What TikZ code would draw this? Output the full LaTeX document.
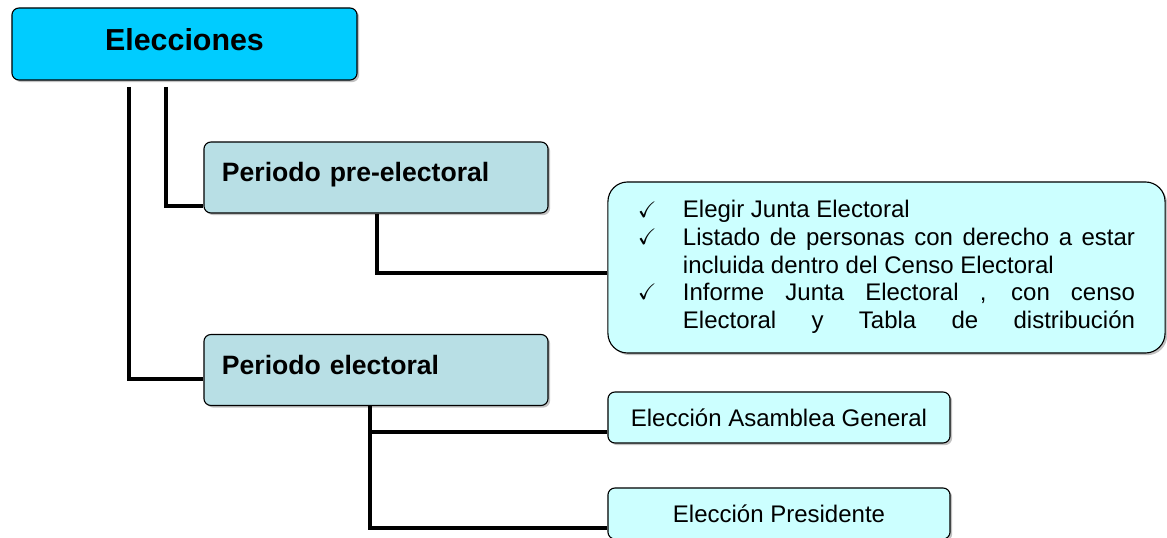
\documentclass[tikz,border=0pt]{standalone}
\usepackage{fontspec}
\setmainfont{Liberation Sans}
\usepackage{amssymb}
\usetikzlibrary{calc,shadows}
\definecolor{titlecyan}{RGB}{0,204,255}
\definecolor{phaseblue}{RGB}{184,223,229}
\definecolor{taskcyan}{RGB}{204,255,255}
\newcommand{\chk}{\raisebox{0.5pt}{\fontsize{16pt}{16pt}\selectfont$\checkmark$}}

\begin{document}
\begin{tikzpicture}[
  x=0.025cm, y=-0.025cm,
  box/.style={draw, line width=0.8pt, rounded corners=5pt,
              drop shadow={shadow xshift=1.5pt, shadow yshift=-1.5pt,
                           fill=black!60, opacity=0.4}},
  title/.style={box, fill=titlecyan, minimum width=8.625cm, minimum height=1.8cm,
                font=\fontsize{21.6pt}{24pt}\selectfont\bfseries},
  phase/.style={box, fill=phaseblue, minimum height=1.775cm, text width=7.7cm,
                inner xsep=0.45cm, align=left,
                font=\fontsize{18.9pt}{21pt}\selectfont\bfseries},
  tasks/.style={box, fill=taskcyan, rounded corners=14pt, minimum width=13.925cm,
                minimum height=4.275cm, inner xsep=0.75cm,
                font=\fontsize{17.07pt}{19.6pt}\selectfont},
  task/.style={box, fill=taskcyan, minimum width=8.55cm, minimum height=1.275cm,
               font=\fontsize{17.07pt}{20pt}\selectfont},
  conn/.style={line width=2.8pt}
]
\useasboundingbox (0,0) rectangle (1167,538);

\node[title] (elec) at (184.5,44) {\raisebox{0.225cm}{Elecciones}};
\node[phase] (pre) at (376,177.5) {\raisebox{0.26cm}{Periodo pre-electoral}};
\node[phase] (elect) at (376,370) {\raisebox{0.27cm}{Periodo electoral}};
\node[tasks] (tareas) at (886.5,267.5) {%
  \begin{tabular}{@{}p{1.125cm}@{}p{11.3cm}@{}}
  \chk & Elegir Junta Electoral\\
  \chk & \makebox[11.3cm][s]{Listado de personas con derecho a estar}\\
       & incluida dentro del Censo Electoral\\
  \chk & \makebox[11.3cm][s]{Informe Junta Electoral , con censo}\\
       & \makebox[11.3cm][s]{Electoral y Tabla de distribución}
  \end{tabular}};
\node[task] (asamblea) at (779,417.5) {Elección Asamblea General};
\node[task] (presi) at (779,513.5) {Elección Presidente};

% Connectors
\coordinate (e1) at (129,87);
\coordinate (e2) at (166,87);
\draw[conn] (e1) |- ($(elect.south west)+(0,-27)$);
\draw[conn] (e2) |- ($(pre.south west)+(0,-8)$);
\draw[conn] ($(pre.south)+(1,0)$) |- ($(tareas.west)+(0,5.5)$);
\draw[conn] ($(elect.south)+(-6,0)$) |- ($(asamblea.south west)+(0,-12)$);
\draw[conn] ($(elect.south)+(-6,0)$) |- ($(presi.south west)+(0,-12)$);

\end{tikzpicture}
\end{document}
